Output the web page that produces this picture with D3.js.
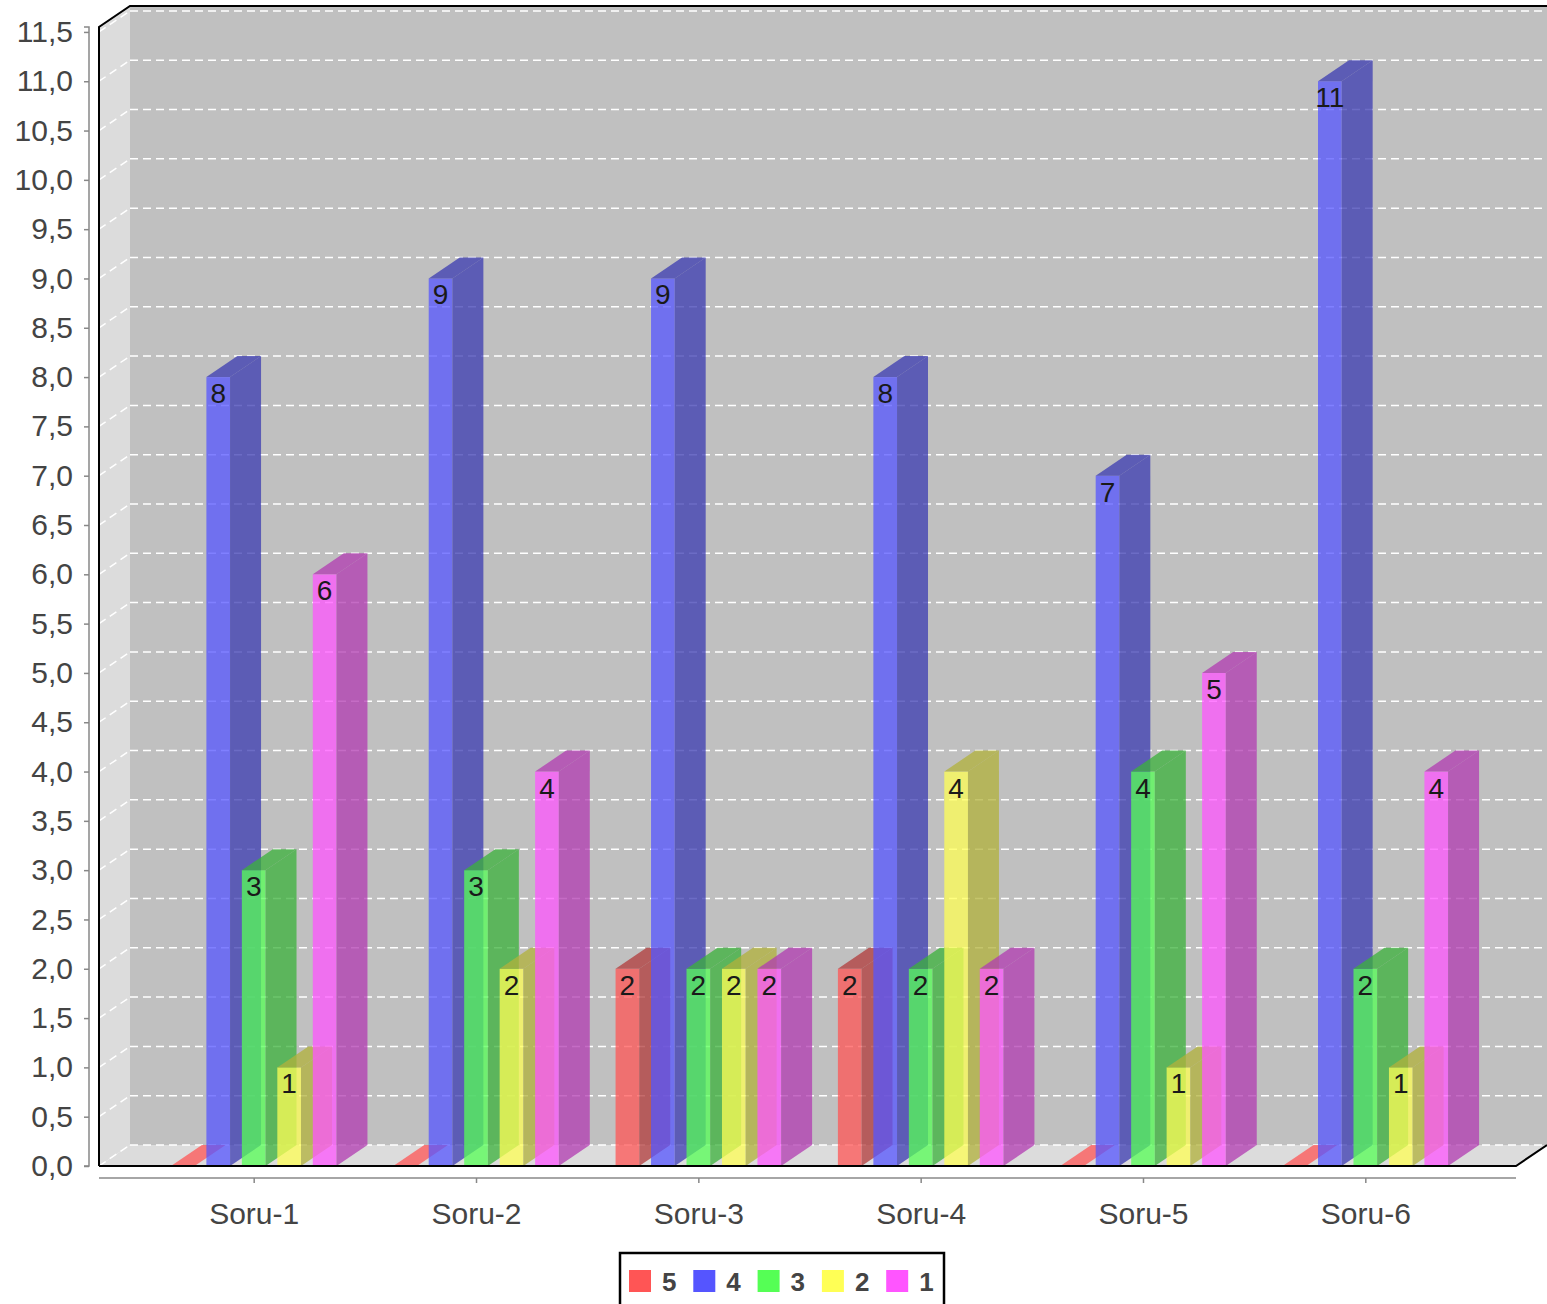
<!DOCTYPE html>
<html>
<head>
<meta charset="utf-8">
<script src="https://cdn.jsdelivr.net/npm/d3@7"></script>
<style>
  body { margin: 0; background: #ffffff; }
  svg { display: block; }
</style>
</head>
<body>
<svg id="chart" width="1547" height="1304"></svg>
<script>
// ---- data ----
const categories = ["Soru-1", "Soru-2", "Soru-3", "Soru-4", "Soru-5", "Soru-6"];
const seriesNames = ["5", "4", "3", "2", "1"];
const seriesColors = ["#FF5555", "#5555FF", "#55FF55", "#FFFF55", "#FF55FF"];
const values5 = [0, 0, 2, 2, 0, 0];
const values4 = [8, 9, 9, 8, 7, 11];
const values3 = [3, 3, 2, 2, 4, 2];
const values2 = [1, 2, 2, 4, 1, 1];
const values1 = [6, 4, 2, 2, 5, 4];
const yTickValues = [0, 0.5, 1, 1.5, 2, 2.5, 3, 3.5, 4, 4.5, 5, 5.5, 6, 6.5, 7, 7.5, 8, 8.5, 9, 9.5, 10, 10.5, 11, 11.5];

const seriesValues = [values5, values4, values3, values2, values1];

// ---- layout ----
const FONT = "'Liberation Sans', Arial, sans-serif";
const plot = { left: 99, right: 1516, top: 27, bottom: 1166 };
const depthX = 31, depthY = 21;           // 3D offset of the back wall
const barAlpha = 0.75;

const svg = d3.select("#chart");

const maxVal = d3.max(seriesValues, s => d3.max(s));
const y = d3.scaleLinear().domain([0, maxVal * 1.05]).range([plot.bottom, plot.top]);

const x0 = d3.scaleBand().domain(categories)
  .range([plot.left + 1, plot.right + 3])
  .paddingInner(0.2554).paddingOuter(0.319);
const x1 = d3.scaleBand().domain(seriesNames)
  .range([0, x0.bandwidth()])
  .paddingInner(0.333);

const color = d3.scaleOrdinal().domain(seriesNames).range(seriesColors);
const darker = c => { const r = d3.rgb(c); return d3.rgb(Math.floor(r.r * 0.7), Math.floor(r.g * 0.7), Math.floor(r.b * 0.7)).toString(); };

// ---- walls ----
const walls = svg.append("g");
// back wall
walls.append("rect")
  .attr("x", plot.left + depthX).attr("y", plot.top - depthY)
  .attr("width", 1547 - (plot.left + depthX)).attr("height", plot.bottom - plot.top)
  .attr("fill", "#c0c0c0");
// left wall
walls.append("path")
  .attr("d", `M${plot.left},${plot.bottom} L${plot.left},${plot.top} L${plot.left + depthX},${plot.top - depthY} L${plot.left + depthX},${plot.bottom - depthY} Z`)
  .attr("fill", "#dcdcdc");
// floor
walls.append("path")
  .attr("d", `M${plot.left},${plot.bottom} L${plot.right},${plot.bottom} L${plot.right + depthX},${plot.bottom - depthY} L${plot.left + depthX},${plot.bottom - depthY} Z`)
  .attr("fill", "#dcdcdc");

// ---- gridlines ----
const grid = svg.append("g")
  .attr("stroke", "#ffffff").attr("stroke-width", 1.5).attr("stroke-dasharray", "8,5").attr("fill", "none");
yTickValues.forEach(v => {
  const yy = y(v);
  grid.append("line")
    .attr("x1", plot.left + depthX).attr("x2", 1547)
    .attr("y1", yy - depthY).attr("y2", yy - depthY);
  grid.append("line")
    .attr("x1", plot.left).attr("x2", plot.left + depthX)
    .attr("y1", yy).attr("y2", yy - depthY);
});

// ---- bars ----
const bars = svg.append("g");
categories.forEach((cat, ci) => {
  seriesNames.forEach((sn, si) => {
    const v = seriesValues[si][ci];
    const c = color(sn);
    const dc = darker(c);
    const bx = x0(cat) + x1(sn);
    const bw = x1.bandwidth();
    const by = y(v);
    const base = y(0);
    const g = bars.append("g").attr("fill-opacity", barAlpha);
    if (v > 0) {
      g.append("rect").attr("x", bx).attr("y", by).attr("width", bw).attr("height", base - by).attr("fill", c);
      g.append("path")
        .attr("d", `M${bx + bw},${by} L${bx + bw + depthX},${by - depthY} L${bx + bw + depthX},${base - depthY} L${bx + bw},${base} Z`)
        .attr("fill", dc);
    }
    g.append("path")
      .attr("d", `M${bx},${by} L${bx + depthX},${by - depthY} L${bx + bw + depthX},${by - depthY} L${bx + bw},${by} Z`)
      .attr("fill", v > 0 ? dc : c);
    if (v > 0) {
      bars.append("text")
        .attr("x", bx + bw / 2).attr("y", by + 26)
        .attr("text-anchor", "middle")
        .attr("font-family", FONT).attr("font-size", 28)
        .attr("fill", "#1a1a1a")
        .text(v);
    }
  });
});

// ---- plot outline ----
svg.append("path")
  .attr("d", `M${plot.left},${plot.bottom} L${plot.left},${plot.top} L${plot.left + depthX},${plot.top - depthY} L1547,${plot.top - depthY}`)
  .attr("fill", "none").attr("stroke", "#000").attr("stroke-width", 2);
svg.append("path")
  .attr("d", `M${plot.left},${plot.bottom} L${plot.right},${plot.bottom} L${plot.right + depthX},${plot.bottom - depthY}`)
  .attr("fill", "none").attr("stroke", "#000").attr("stroke-width", 2);

// ---- range axis ----
const fmt = v => d3.format(".1f")(v).replace(".", ",");
const yAxis = d3.axisLeft(y).tickValues(yTickValues).tickFormat(fmt).tickSize(5).tickPadding(11);
const ya = svg.append("g").attr("transform", "translate(89,0)").call(yAxis);
ya.select(".domain").attr("stroke", "#888").attr("stroke-width", 1.5).attr("d", `M-5,${plot.top}H0V${plot.bottom}H-5`);
ya.selectAll(".tick line").attr("stroke", "#888").attr("stroke-width", 1.5);
ya.selectAll(".tick text").attr("font-family", FONT).attr("font-size", 30).attr("fill", "#444");

// ---- category axis ----
const xAxisScale = d3.scalePoint().domain(categories).range([x0(categories[0]) + x0.bandwidth() / 2, x0(categories[categories.length - 1]) + x0.bandwidth() / 2]);
const xAxis = d3.axisBottom(xAxisScale).tickSize(5).tickPadding(20);
const xa = svg.append("g").attr("transform", "translate(0,1178)").call(xAxis);
xa.select(".domain").attr("stroke", "#888").attr("stroke-width", 1.5).attr("d", `M${plot.left},0H${plot.right}`);
xa.selectAll(".tick line").attr("stroke", "#888").attr("stroke-width", 1.5);
xa.selectAll(".tick text").attr("font-family", FONT).attr("font-size", 30).attr("fill", "#444");

// ---- legend ----
const legend = svg.append("g");
legend.append("rect")
  .attr("x", 620).attr("y", 1253).attr("width", 324).attr("height", 70)
  .attr("fill", "#fff").attr("stroke", "#000").attr("stroke-width", 2.5);
const legendStep = 64.3;
seriesNames.forEach((sn, i) => {
  const lx = 629 + i * legendStep;
  legend.append("rect").attr("x", lx).attr("y", 1270).attr("width", 22).attr("height", 22).attr("fill", color(sn));
  legend.append("text")
    .attr("x", lx + 33).attr("y", 1291)
    .attr("font-family", FONT).attr("font-size", 26).attr("font-weight", "bold")
    .attr("fill", "#444")
    .text(sn);
});
</script>
</body>
</html>
